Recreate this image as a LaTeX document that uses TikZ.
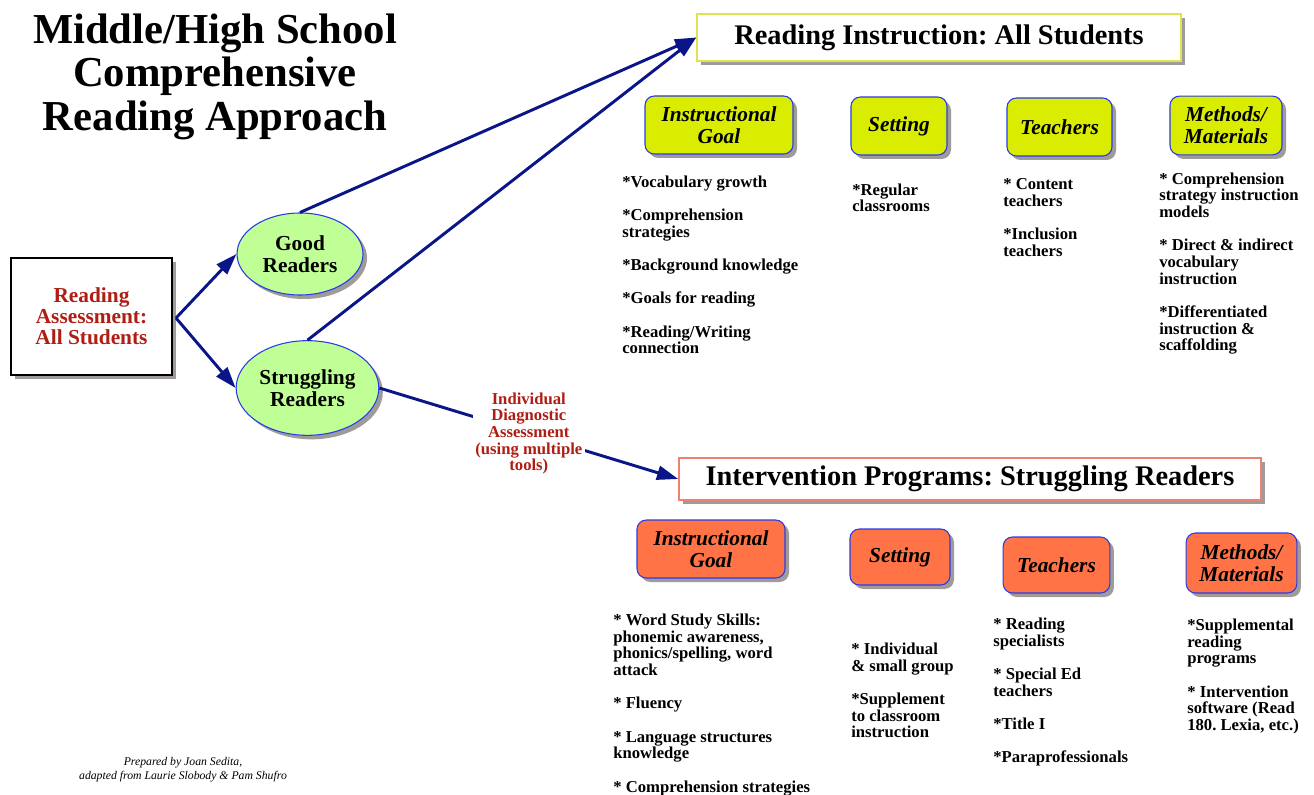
\documentclass[tikz,border=0pt]{standalone}
\usepackage{fontspec}
\setmainfont{Liberation Serif}
\frenchspacing
\usetikzlibrary{arrows.meta,shadows,shapes.geometric}
\definecolor{ygreen}{RGB}{218,236,0}
\definecolor{orng}{RGB}{255,115,70}
\definecolor{lgreen}{RGB}{192,255,150}
\definecolor{bordblue}{RGB}{40,60,230}
\definecolor{navy}{RGB}{10,22,135}
\definecolor{dred}{RGB}{175,30,20}
\definecolor{shadowgray}{RGB}{160,155,155}
\definecolor{hyellow}{RGB}{222,228,80}
\definecolor{hsalmon}{RGB}{238,130,110}
\tikzset{
  shadowed/.style={drop shadow={shadow xshift=3pt,shadow yshift=-3pt,fill=shadowgray,opacity=1}},
  catbox/.style={rounded corners=7pt, draw=bordblue, line width=0.8pt, align=center,
    font=\fontsize{16}{16.5}\selectfont\bfseries\itshape, inner sep=0pt, shadowed},
  ybox/.style={catbox, fill=ygreen},
  obox/.style={catbox, fill=orng},
  reader/.style={ellipse, draw=bordblue, line width=0.8pt, fill=lgreen, align=center,
    font=\fontsize{16}{16.5}\selectfont\bfseries, inner sep=0pt, shadowed},
  header/.style={draw, line width=1.1pt, fill=white, inner sep=0pt,
    font=\fontsize{21.3}{22}\selectfont\bfseries, shadowed},
  coltext/.style={anchor=north west, align=left, inner sep=0pt,
    font=\fontsize{12.5}{12.5}\selectfont\bfseries},
  arr/.style={draw=navy, line width=2.2pt, -{Triangle[length=16pt,width=10.5pt]}},
}
\begin{document}
\begin{tikzpicture}[x=0.75pt,y=-0.75pt]
\useasboundingbox (0,0) rectangle (1314,795);

% title
\node[anchor=north, align=center, inner sep=0pt, font=\fontsize{32}{32.3}\selectfont\bfseries]
  (title) at (215,14) {Middle/High School\\Comprehensive\\Reading Approach};

% assessment box
\node[draw=black, line width=1pt, fill=white, shadowed, minimum width=120.75pt, minimum height=87.75pt,
  inner sep=0pt, align=center, text=dred, font=\fontsize{16}{15.8}\selectfont\bfseries]
  (ra) at (91.5,316.5) {Reading\\Assessment:\\All Students};

% readers
\node[reader, minimum width=94.5pt, minimum height=61.5pt] (good) at (300,254) {Good\\Readers};
\node[reader, minimum width=107pt, minimum height=71pt] (strug) at (307.5,388) {Struggling\\Readers};

% headers
\node[header, draw=hyellow, minimum width=363pt, minimum height=35.25pt] (ri) at (939,37.5)
  {Reading Instruction: All Students};
\node[header, draw=hsalmon, minimum width=436.5pt, minimum height=31.5pt] (ip) at (970,479)
  {Intervention Programs: Struggling Readers};

% top category boxes
\node[ybox, minimum width=111pt, minimum height=43.5pt] (tig) at (719,125) {Instructional\\Goal};
\node[ybox, minimum width=72pt, minimum height=43.5pt] (tset) at (899,126) {Setting};
\node[ybox, minimum width=78.75pt, minimum height=43.5pt] (tteach) at (1059.5,127) {Teachers};
\node[ybox, minimum width=84pt, minimum height=44pt] (tmeth) at (1226,125.5) {Methods/\\Materials};

% bottom category boxes
\node[obox, minimum width=111pt, minimum height=43.5pt] (big) at (711,549) {Instructional\\Goal};
\node[obox, minimum width=75pt, minimum height=42pt] (bset) at (900,557) {Setting};
\node[obox, minimum width=80pt, minimum height=42pt] (bteach) at (1056.5,565) {Teachers};
\node[obox, minimum width=83pt, minimum height=45pt] (bmeth) at (1241.5,563) {Methods/\\Materials};

% top text columns
\node[coltext] (tc1) at (622,175.5) {*Vocabulary growth\\[12.5pt]*Comprehension\\strategies\\[12.5pt]*Background knowledge\\[12.5pt]*Goals for reading\\[12.5pt]*Reading/Writing\\connection};
\node[coltext] (tc2) at (852,183.5) {*Regular\\classrooms};
\node[coltext] (tc3) at (1003,178.5) {* Content\\teachers\\[12.5pt]*Inclusion\\teachers};
\node[coltext] (tc4) at (1159,172.5) {* Comprehension\\strategy instruction\\models\\[12.5pt]* Direct \& indirect\\vocabulary\\instruction\\[12.5pt]*Differentiated\\instruction \&\\scaffolding};

% bottom text columns
\node[coltext] (bc1) at (613,613.5) {* Word Study Skills:\\phonemic awareness,\\phonics/spelling, word\\attack\\[12.5pt]* Fluency\\[12.5pt]* Language structures\\knowledge\\[12.5pt]* Comprehension strategies};
\node[coltext] (bc2) at (851,642.5) {* Individual\\\& small group\\[12.5pt]*Supplement\\to classroom\\instruction};
\node[coltext] (bc3) at (993,617.5) {* Reading\\specialists\\[12.5pt]* Special Ed\\teachers\\[12.5pt]*Title I\\[12.5pt]*Paraprofessionals};
\node[coltext] (bc4) at (1187,618.5) {*Supplemental\\reading\\programs\\[12.5pt]* Intervention\\software (Read\\180. Lexia, etc.)};

% footer
\node[align=center, inner sep=0pt, font=\fontsize{8.8}{10.5}\selectfont\itshape] (foot) at (183,770)
  {Prepared by Joan Sedita,\\adapted from Laurie Slobody \& Pam Shufro};

% connectors
\coordinate (fork) at (176,318);
\draw[arr] (fork) -- (good.west);
\draw[arr] (fork) -- (strug.west);
\draw[arr] (good.north) -- (ri.west);
\draw[arr] (strug.north) -- (ri.west);
\draw[arr] (strug.east) -- node[fill=white, inner sep=2pt, align=center, text=dred,
   font=\fontsize{12.5}{12.5}\selectfont\bfseries] (diag)
   {Individual\\Diagnostic\\Assessment\\(using multiple\\tools)} (ip.west);
\end{tikzpicture}
\end{document}
